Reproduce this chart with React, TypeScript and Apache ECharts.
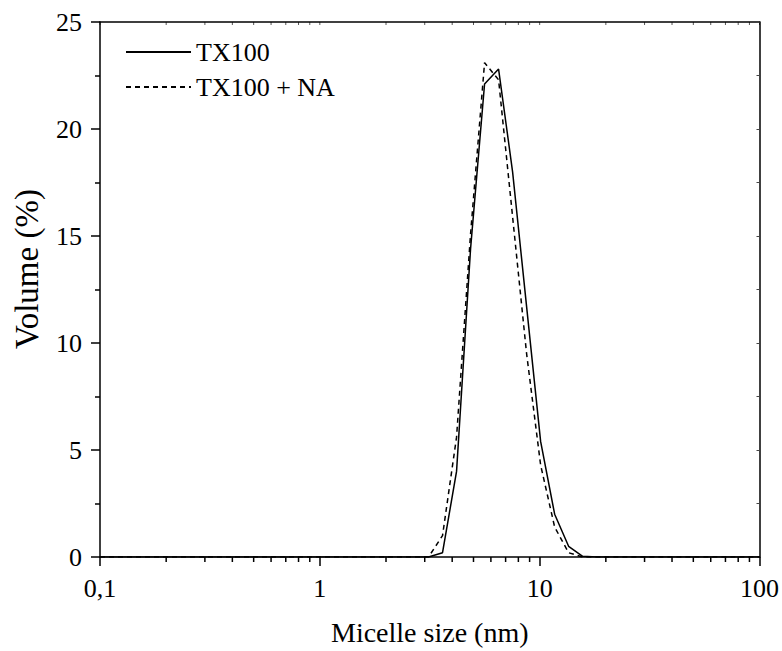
import React, { useEffect, useRef } from "react";
import * as echarts from "echarts";

// Micelle size bins (nm)
const sizes = [0.1, 3.122, 3.615, 4.187, 4.849, 5.615, 6.503, 7.531, 8.721, 10.1, 11.7, 13.54, 15.69, 18.17, 100];
// Volume (%)
const tx100 = [0, 0, 0.2, 4.0, 14.4, 22.1, 22.8, 18.0, 11.7, 5.4, 2.0, 0.5, 0.03, 0, 0];
const tx100na = [0, 0, 1.0, 5.6, 15.1, 23.1, 22.3, 15.9, 9.5, 4.3, 1.4, 0.2, 0, 0, 0];

const seriesNames = ["TX100", "TX100 + NA"];
const majorTicks = [0.1, 1, 10, 100];
const minorTicks = [0.2, 0.3, 0.4, 0.5, 0.6, 0.7, 0.8, 0.9, 2, 3, 4, 5, 6, 7, 8, 9, 20, 30, 40, 50, 60, 70, 80, 90];
const xMin = 0.1;
const xMax = 100;
const yMax = 25;

const FONT = "Liberation Serif";

export default function App() {
  const ref = useRef<HTMLDivElement>(null);
  useEffect(() => {
    if (!ref.current) return;
    const chart = echarts.init(ref.current, null, { renderer: "svg" });
    const axisLine = { show: true, onZero: false, lineStyle: { color: "#000", width: 1.5 } };
    const yTitle = {
      type: "text",
      x: 27,
      y: 269,
      rotation: Math.PI / 2,
      style: {
        text: "Volume (%)",
        fontFamily: FONT,
        fontSize: 33,
        fill: "#000",
        align: "center",
        verticalAlign: "middle",
      },
    };
    chart.setOption({
      animation: false,
      backgroundColor: "#fff",
      textStyle: { fontFamily: FONT, color: "#000" },
      grid: { left: 100, right: 22, top: 22, bottom: 93 },
      legend: {
        orient: "vertical",
        left: 125,
        top: 39,
        padding: 0,
        itemWidth: 65,
        itemHeight: 14,
        itemGap: 9,
        itemStyle: { opacity: 0 },
        textStyle: { fontFamily: FONT, fontSize: 26, color: "#000", lineHeight: 26 },
        data: seriesNames,
      },
      xAxis: [
        {
          type: "log",
          logBase: 10,
          min: xMin,
          max: xMax,
          position: "bottom",
          name: "Micelle size (nm)",
          nameLocation: "middle",
          nameGap: 61,
          nameTextStyle: { fontFamily: FONT, fontSize: 28, color: "#000" },
          axisLine,
          axisTick: { show: true, inside: false, length: 9, lineStyle: { color: "#000", width: 1.5 } },
          axisLabel: {
            show: true,
            margin: 18,
            fontFamily: FONT,
            fontSize: 26,
            color: "#000",
            formatter: (v: number) => String(v).replace(".", ","),
          },
          splitLine: { show: false },
        },
        {
          type: "log",
          logBase: 10,
          min: xMin,
          max: xMax,
          position: "top",
          axisLine,
          axisTick: { show: false },
          axisLabel: { show: false },
          splitLine: { show: false },
        },
      ],
      yAxis: [
        {
          type: "value",
          min: 0,
          max: yMax,
          interval: 5,
          position: "left",
          axisLine,
          axisTick: { show: true, inside: false, length: 9, lineStyle: { color: "#000", width: 1.5 } },
          minorTick: { show: true, splitNumber: 2, length: 5, lineStyle: { color: "#000", width: 1.5 } },
          axisLabel: { margin: 18, fontFamily: FONT, fontSize: 26, color: "#000" },
          splitLine: { show: false },
        },
        {
          type: "value",
          min: 0,
          max: yMax,
          interval: 2.5,
          position: "right",
          axisLine,
          axisTick: { show: true, inside: true, length: 3, lineStyle: { color: "#444", width: 1 } },
          axisLabel: { show: false },
          splitLine: { show: false },
        },
      ],
      series: [
        {
          name: seriesNames[0],
          type: "line",
          xAxisIndex: 0,
          yAxisIndex: 0,
          symbol: "none",
          data: sizes.map((s, i) => [s, tx100[i]]),
          lineStyle: { color: "#000", width: 1.5, type: "solid" },
          itemStyle: { color: "#000" },
        },
        {
          name: seriesNames[1],
          type: "line",
          xAxisIndex: 0,
          yAxisIndex: 0,
          symbol: "none",
          data: sizes.map((s, i) => [s, tx100na[i]]),
          lineStyle: { color: "#000", width: 1.5, type: [5, 4] },
          itemStyle: { color: "#000" },
        },
      ],
    });

    // log-axis minor ticks, positioned through the axis scale
    const tickEls: any[] = [];
    try {
      const yBottom = Number(chart.convertToPixel({ xAxisIndex: 0, yAxisIndex: 0 } as any, [xMin, 0])[1]);
      const yTop = Number(chart.convertToPixel({ xAxisIndex: 0, yAxisIndex: 0 } as any, [xMin, yMax])[1]);
      minorTicks.forEach((t) => {
        const x = Number(chart.convertToPixel({ xAxisIndex: 0, yAxisIndex: 0 } as any, [t, 0])[0]);
        if (isFinite(x) && isFinite(yBottom)) {
          tickEls.push({
            type: "rect",
            shape: { x: x - 0.75, y: yBottom, width: 1.5, height: 5 },
            style: { fill: "#000" },
          });
        }
      });
      [...majorTicks, ...minorTicks].forEach((t) => {
        const x = Number(chart.convertToPixel({ xAxisIndex: 0, yAxisIndex: 0 } as any, [t, yMax])[0]);
        if (isFinite(x) && isFinite(yTop)) {
          tickEls.push({
            type: "rect",
            shape: { x: x - 0.5, y: yTop, width: 1, height: 3 },
            style: { fill: "#555" },
          });
        }
      });
    } catch (e) {
      // keep chart without extra ticks
    }
    chart.setOption({ graphic: [yTitle, ...tickEls] });
    return () => chart.dispose();
  }, []);
  return <div ref={ref} style={{ width: 782, height: 651, position: "absolute", left: 0, top: 0 }} />;
}
